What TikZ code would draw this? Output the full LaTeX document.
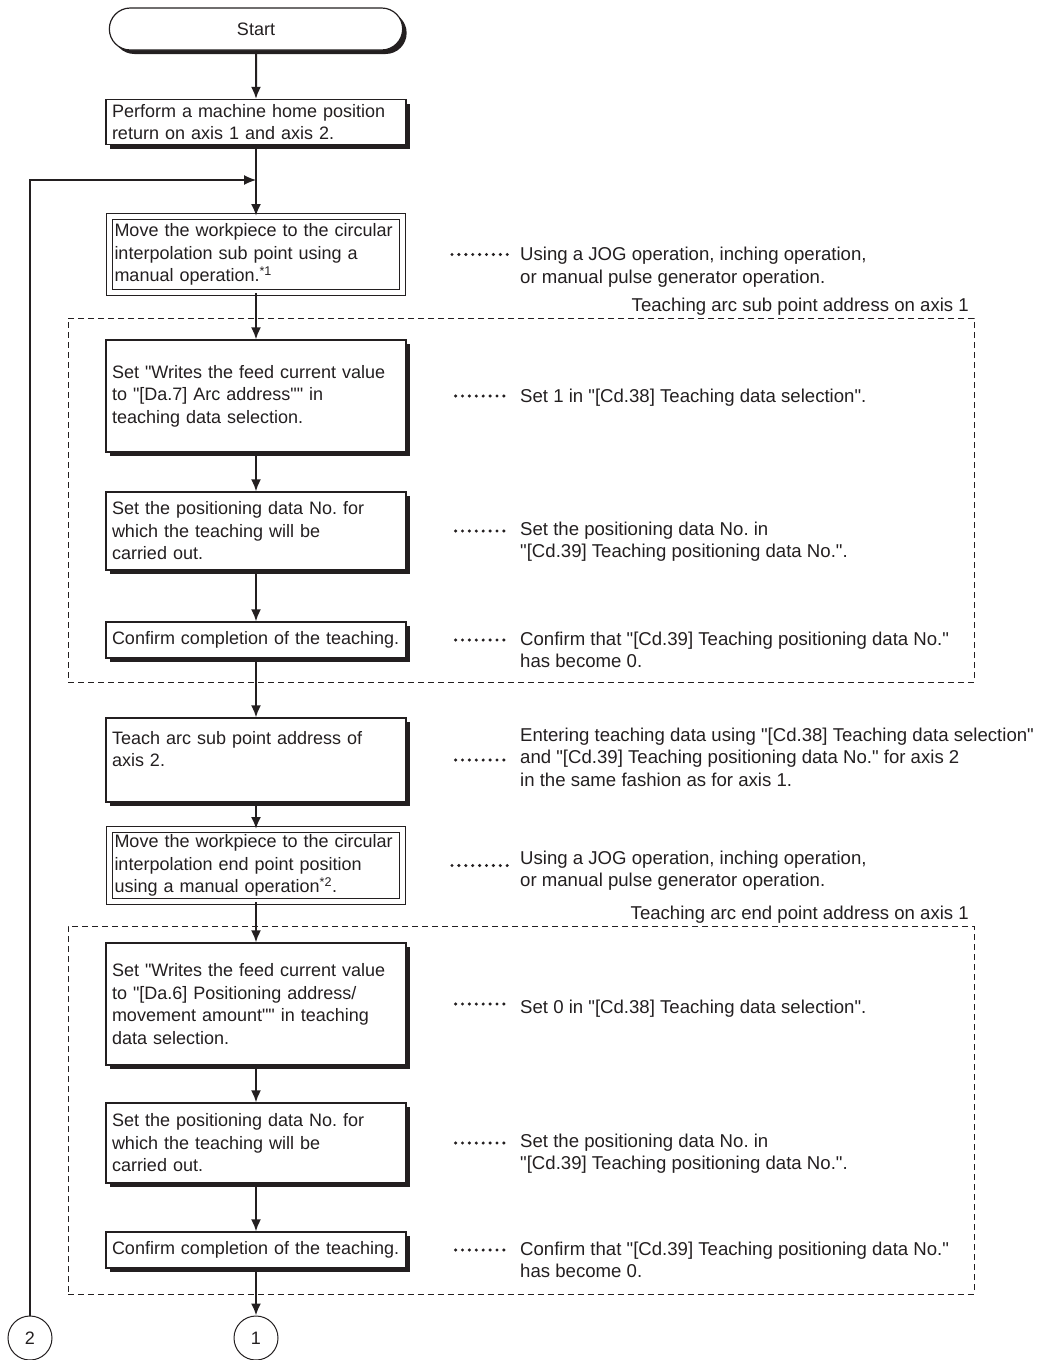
\documentclass[tikz,border=0pt]{standalone}
\usepackage{fontspec}
\newfontfamily\flowfont{Liberation Sans}
\usetikzlibrary{arrows.meta,shapes.misc,shadows}
\definecolor{ink}{HTML}{231F20}

\begin{document}
\begin{tikzpicture}[x=1pt,y=-1pt,
    font=\flowfont\fontsize{18}{22.5}\selectfont\frenchspacing,text=ink,
    shade/.style={drop shadow={shadow xshift=4pt,shadow yshift=-4pt,fill=ink,opacity=1}},
    box/.style={draw=ink,line width=1.2pt,fill=white,text width=288pt,inner xsep=6pt,inner ysep=3pt,align=left,minimum height=#1,shade},
    box/.default=36,
    dbox/.style={draw=ink,line width=1pt,double=white,double distance=5pt,fill=white,text width=283pt,inner xsep=5pt,inner ysep=2pt,align=left,minimum height=#1},
    term/.style={rounded rectangle,draw=ink,line width=1.2pt,fill=white,minimum width=300pt,minimum height=42pt,shade},
    conn/.style={circle,draw=ink,line width=1pt,minimum size=44pt,inner sep=0pt},
    group/.style={draw=ink,line width=1pt,dash pattern=on 6pt off 4pt},
    glabel/.style={anchor=south east,inner sep=1.5pt,font=\flowfont\fontsize{18.6}{22.5}\selectfont},
    note/.style={anchor=north west,align=left,inner xsep=10pt,inner ysep=0pt,font=\flowfont\fontsize{18.6}{22.5}\selectfont\frenchspacing},
    arr/.style={draw=ink,line width=2pt,-{Latex[length=12pt,width=10pt]}},
    dotline/.style={draw=ink,line width=3.4pt,line cap=round,dash pattern=on 0pt off 6.9pt}
]
\useasboundingbox (0,0) rectangle (1037,1360);

\node[group,minimum width=906pt,minimum height=364pt] (g1) at (521,500) {};
\node[glabel] at ([xshift=-4pt]g1.north east) {Teaching arc sub point address on axis 1};
\node[group,minimum width=906pt,minimum height=368pt] (g2) at (521,1110) {};
\node[glabel] at ([xshift=-4pt]g2.north east) {Teaching arc end point address on axis 1};

\node[term] (start) at (256,29) {Start};
\node[box=45pt] (b1) at (256,122) {Perform a machine home position\\return on axis 1 and axis 2.};
\coordinate (j) at (256,180);
\node[dbox=76pt] (b2) at (256,254.5) {Move the workpiece to the circular\\interpolation sub point using a\\manual operation.\textsuperscript{*1}};
\node[box=112pt] (b3) at (256,396) {Set "Writes the feed current value\\to "[Da.7] Arc address"" in\\teaching data selection.};
\node[box=78pt] (b4) at (256,531) {Set the positioning data No. for\\which the teaching will be\\carried out.};
\node[box=36pt] (b5) at (256,640) {Confirm completion of the teaching.};
\node[box=84pt] (b6) at (256,760) {Teach arc sub point address of\\axis 2.\\\mbox{}};
\node[dbox=72pt] (b7) at (256,865.5) {Move the workpiece to the circular\\interpolation end point position\\using a manual operation\textsuperscript{*2}.};
\node[box=122pt] (b8) at (256,1004) {Set "Writes the feed current value\\to "[Da.6] Positioning address/\\movement amount"" in teaching\\data selection.};
\node[box=80pt] (b9) at (256,1143) {Set the positioning data No. for\\which the teaching will be\\carried out.};
\node[box=36pt] (b10) at (256,1250) {Confirm completion of the teaching.};
\node[conn] (c1) at (256,1338) {1};
\node[conn] (c2) at (30,1338) {2};

\node[note] (n2) at (510,247) {Using a JOG operation, inching operation,\\or manual pulse generator operation.};
\node[note] (n3) at (510,388.4) {Set 1 in "[Cd.38] Teaching data selection".};
\node[note] (n4) at (510,521.4) {Set the positioning data No. in\\"[Cd.39] Teaching positioning data No.".};
\node[note] (n5) at (510,631.4) {Confirm that "[Cd.39] Teaching positioning data No."\\has become 0.};
\node[note] (n6) at (510,727.4) {Entering teaching data using "[Cd.38] Teaching data selection"\\and "[Cd.39] Teaching positioning data No." for axis 2\\in the same fashion as for axis 1.};
\node[note] (n7) at (510,850.4) {Using a JOG operation, inching operation,\\or manual pulse generator operation.};
\node[note] (n8) at (510,999.4) {Set 0 in "[Cd.38] Teaching data selection".};
\node[note] (n9) at (510,1133.4) {Set the positioning data No. in\\"[Cd.39] Teaching positioning data No.".};
\node[note] (n10) at (510,1241.4) {Confirm that "[Cd.39] Teaching positioning data No."\\has become 0.};

\draw[arr] (start) -- (b1);
\draw[arr] (b1) -- (b2);
\draw[arr,line width=1.2pt] (c2) |- (j);
\draw[arr] (b2) -- (b3);
\draw[arr] (b3) -- (b4);
\draw[arr] (b4) -- (b5);
\draw[arr] (b5) -- (b6);
\draw[arr] (b6) -- (b7);
\draw[arr] (b7) -- (b8);
\draw[arr] (b8) -- (b9);
\draw[arr] (b9) -- (b10);
\draw[arr] (b10) -- (c1);

\foreach \i in {2,...,10}
  \draw[dotline] ([xshift=49pt]b\i.east) -- (b\i.east -| n\i.west);
\end{tikzpicture}
\end{document}
